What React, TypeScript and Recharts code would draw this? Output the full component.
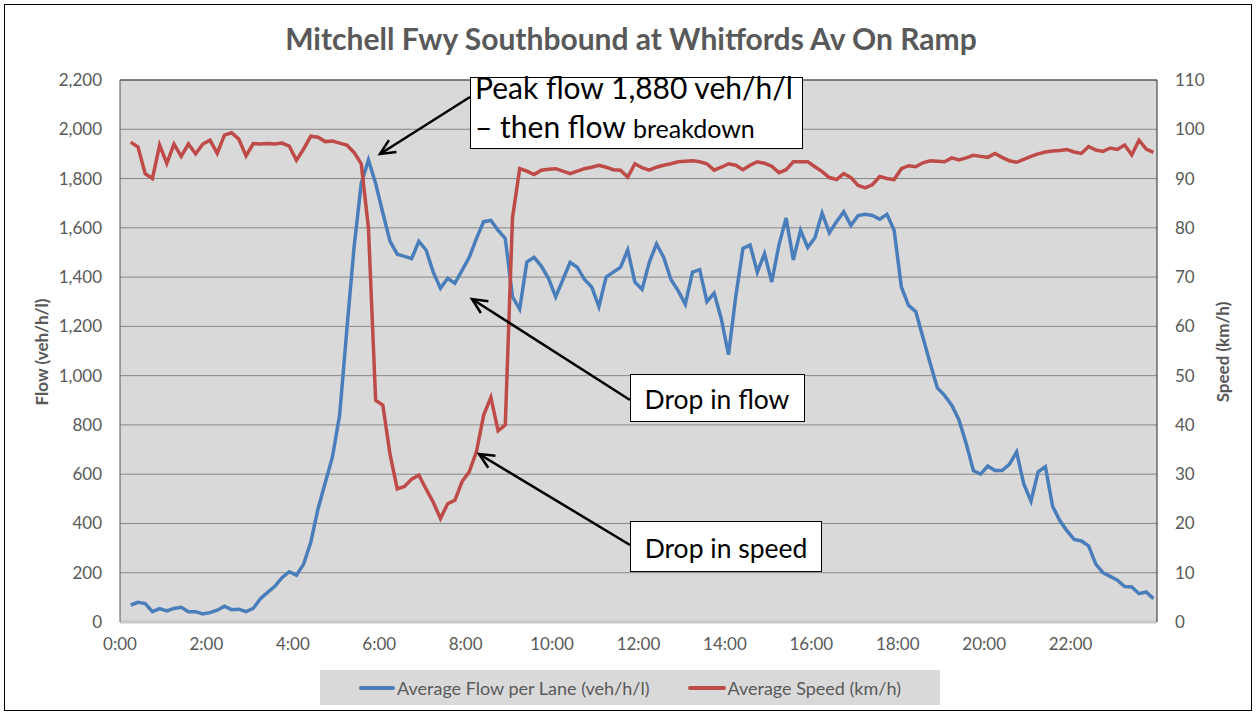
import React from "react";
import {
  ComposedChart,
  Line,
  XAxis,
  YAxis,
  CartesianGrid,
  ReferenceLine,
} from "recharts";

// readings every 10 minutes, first one at 0:15
const startMinute = 15;
const stepMinutes = 10;

const flowPerLane = [
  69, 80, 75, 42, 54, 45, 55, 60, 42, 42, 33, 38, 48, 64, 50, 52, 42, 55, 95, 120,
  145, 180, 204, 190, 235, 325, 460, 565, 670, 840, 1187, 1520, 1780, 1875, 1780, 1660, 1545, 1493, 1484, 1475,
  1545, 1510, 1420, 1355, 1395, 1375, 1427, 1480, 1557, 1625, 1630, 1590, 1557, 1320, 1270, 1461, 1480, 1445, 1395, 1320,
  1390, 1460, 1440, 1390, 1360, 1280, 1400, 1420, 1440, 1510, 1380, 1350, 1460, 1535, 1480, 1390, 1345, 1290, 1420, 1430,
  1300, 1335, 1230, 1085, 1320, 1516, 1530, 1420, 1495, 1380, 1530, 1640, 1470, 1590, 1520, 1560, 1660, 1580, 1625, 1665,
  1610, 1650, 1655, 1650, 1635, 1655, 1590, 1360, 1285, 1260, 1155, 1050, 950, 920, 880, 820, 725, 615, 600, 633,
  615, 615, 640, 690, 560, 490, 610, 630, 470, 412, 370, 335, 329, 309, 235, 200, 185, 170, 144, 142,
  115, 122, 95,
];

const avgSpeed = [
  97.4, 96.4, 91, 90, 96.8, 93.1, 97, 94.5, 97, 95, 97, 97.8, 95.1, 98.8, 99.3, 98, 94.6, 97.1, 97, 97.1,
  97, 97.2, 96.6, 93.7, 96, 98.6, 98.4, 97.5, 97.6, 97.2, 96.8, 95.3, 93, 80, 45, 44, 34, 27, 27.5, 29,
  29.8, 27, 24.3, 21, 24, 24.7, 28.5, 30.5, 34.6, 42, 45.6, 38.8, 40, 82, 92, 91.5, 90.8, 91.7, 91.9, 92,
  91.5, 91, 91.5, 92, 92.3, 92.7, 92.3, 91.8, 91.7, 90.3, 93, 92.2, 91.7, 92.3, 92.7, 93, 93.4, 93.5, 93.6, 93.4,
  93, 91.7, 92.3, 93, 92.7, 91.8, 92.7, 93.4, 93.1, 92.5, 91.2, 91.8, 93.4, 93.4, 93.4, 92.4, 91.4, 90.2, 89.8, 91,
  90.2, 88.6, 88.1, 88.8, 90.4, 90, 89.8, 92, 92.6, 92.4, 93.2, 93.6, 93.5, 93.4, 94.2, 93.8, 94.2, 94.7, 94.5, 94.3,
  95.1, 94.3, 93.6, 93.3, 93.9, 94.5, 95, 95.4, 95.6, 95.7, 95.9, 95.4, 95.1, 96.5, 95.8, 95.5, 96.2, 95.9, 96.8, 94.8,
  97.8, 96, 95.3,
];

const timeTicks = [0, 120, 240, 360, 480, 600, 720, 840, 960, 1080, 1200, 1320];
const flowTicks = [0, 200, 400, 600, 800, 1000, 1200, 1400, 1600, 1800, 2000, 2200];
const speedTicks = [0, 10, 20, 30, 40, 50, 60, 70, 80, 90, 100, 110];

const chartData = flowPerLane.map((f, i) => ({
  minute: startMinute + i * stepMinutes,
  flow: f,
  speed: avgSpeed[i],
}));

const FONT = "Lato, Carlito, Calibri, sans-serif";
const GREY = "#595959";
const tickStyle = { fill: GREY, fontSize: 17, fontFamily: FONT };

export default function App() {
  return (
    <div
      style={{
        position: "absolute",
        left: 0,
        top: 0,
        width: 1256,
        height: 715,
        background: "#fff",
        fontFamily: FONT,
      }}
    >
      <ComposedChart
        width={1256}
        height={715}
        data={chartData}
        margin={{ top: 80, right: 0, bottom: 53, left: 0 }}
      >
        <CartesianGrid
          yAxisId="flow"
          vertical={false}
          fill="#D9D9D9"
          stroke="#878787"
          horizontalValues={flowTicks}
        />
        <XAxis
          dataKey="minute"
          type="number"
          domain={[0, 1440]}
          ticks={timeTicks}
          tickFormatter={(m: number) => `${m / 60}:00`}
          tick={tickStyle}
          tickLine={false}
          tickSize={0}
          tickMargin={16}
          axisLine={{ stroke: "#C8C8C8", strokeWidth: 3 }}
          height={40}
          interval={0}
        />
        <YAxis
          yAxisId="flow"
          domain={[0, 2200]}
          ticks={flowTicks}
          tickFormatter={(v: number) => v.toLocaleString("en-US")}
          tick={tickStyle}
          tickLine={false}
          tickSize={0}
          tickMargin={18}
          axisLine={{ stroke: GREY }}
          width={120}
          interval={0}
        />
        <YAxis
          yAxisId="speed"
          orientation="right"
          domain={[0, 110]}
          ticks={speedTicks}
          tick={{ ...tickStyle, textAnchor: "start" }}
          tickLine={false}
          tickSize={0}
          tickMargin={18}
          axisLine={{ stroke: "#262626" }}
          width={99}
          interval={0}
        />
        <ReferenceLine yAxisId="flow" y={2200} stroke="#404040" />
        <Line
          yAxisId="flow"
          type="linear"
          dataKey="flow"
          stroke="#4A7EBB"
          strokeWidth={3.5}
          dot={false}
          isAnimationActive={false}
        />
        <Line
          yAxisId="speed"
          type="linear"
          dataKey="speed"
          stroke="#BE4B48"
          strokeWidth={3.5}
          dot={false}
          isAnimationActive={false}
        />
      </ComposedChart>

      <svg
        width={1256}
        height={715}
        style={{ position: "absolute", left: 0, top: 0, pointerEvents: "none" }}
      >
        <defs>
          <marker
            id="arrowHead"
            markerUnits="userSpaceOnUse"
            markerWidth={20}
            markerHeight={20}
            refX={17}
            refY={10}
            orient="auto"
          >
            <path d="M2,3 L17,10 L2,17" fill="none" stroke="#000" strokeWidth={2.5} />
          </marker>
        </defs>
        <rect x={4.5} y={4.5} width={1247} height={706} fill="none" stroke="#000" />

        <text
          x={631}
          y={50}
          textAnchor="middle"
          fontFamily={FONT}
          fontWeight="bold"
          fontSize={30}
          fill={GREY}
        >
          Mitchell Fwy Southbound at Whitfords Av On Ramp
        </text>
        <text
          transform="translate(48,352) rotate(-90)"
          textAnchor="middle"
          fontFamily={FONT}
          fontWeight="bold"
          fontSize={17}
          fill={GREY}
        >
          Flow (veh/h/l)
        </text>
        <text
          transform="translate(1229,352) rotate(-90)"
          textAnchor="middle"
          fontFamily={FONT}
          fontWeight="bold"
          fontSize={17}
          fill={GREY}
        >
          Speed (km/h)
        </text>

        {/* callouts */}
        <line x1={470} y1={97} x2={380} y2={154} stroke="#000" strokeWidth={2.5} markerEnd="url(#arrowHead)" />
        <line x1={630} y1={400} x2={472} y2={299} stroke="#000" strokeWidth={2.5} markerEnd="url(#arrowHead)" />
        <line x1={630} y1={545} x2={479} y2={454} stroke="#000" strokeWidth={2.5} markerEnd="url(#arrowHead)" />

        <rect x={470.5} y={77.5} width={332} height={71} fill="#fff" stroke="#000" />
        <text x={475} y={99} fontFamily={FONT} fontSize={30} fill="#000">
          Peak flow 1,880 veh/h/l
        </text>
        <text x={475} y={138} fontFamily={FONT} fontSize={30} fill="#000">
          – then flow <tspan fontSize={25}>breakdown</tspan>
        </text>

        <rect x={630.5} y={374.5} width={174} height={47} fill="#fff" stroke="#000" />
        <text x={717} y={409} textAnchor="middle" fontFamily={FONT} fontSize={26.5} fill="#000">
          Drop in flow
        </text>

        <rect x={630.5} y={521.5} width={191} height={50} fill="#fff" stroke="#000" />
        <text x={726} y={558} textAnchor="middle" fontFamily={FONT} fontSize={26.5} fill="#000">
          Drop in speed
        </text>
      </svg>

      <div
        style={{
          position: "absolute",
          left: 320,
          top: 670,
          width: 620,
          height: 35,
          background: "#D9D9D9",
          display: "flex",
          alignItems: "center",
          justifyContent: "center",
          gap: 38,
          fontSize: 18,
          color: GREY,
        }}
      >
        <span style={{ display: "flex", alignItems: "center" }}>
          <span style={{ width: 36, height: 4, borderRadius: 2, background: "#4A7EBB", marginRight: 2 }} />
          Average Flow per Lane (veh/h/l)
        </span>
        <span style={{ display: "flex", alignItems: "center" }}>
          <span style={{ width: 38, height: 4, borderRadius: 2, background: "#BE4B48", marginRight: 2 }} />
          Average Speed (km/h)
        </span>
      </div>
    </div>
  );
}
